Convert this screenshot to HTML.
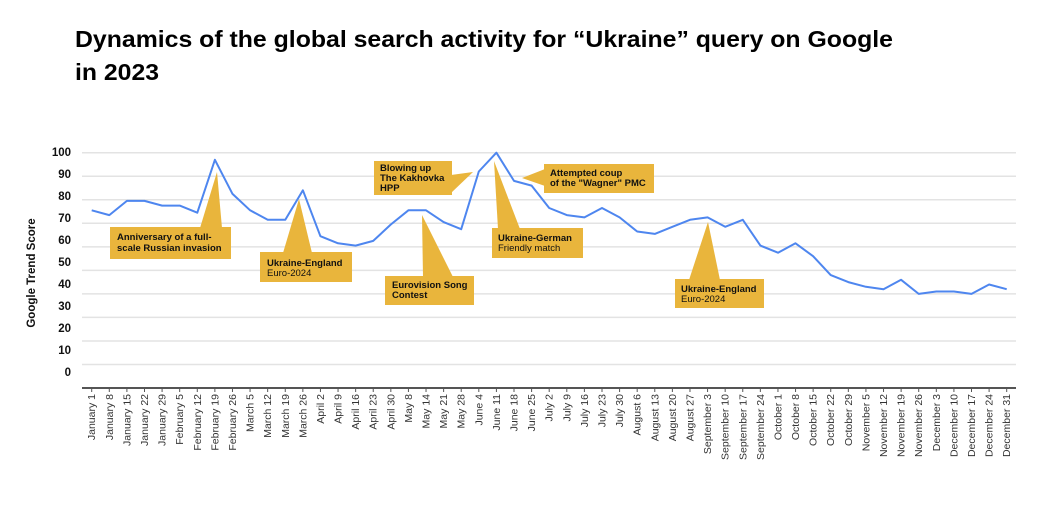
<!DOCTYPE html>
<html><head><meta charset="utf-8"><style>
html,body{margin:0;padding:0;background:#fff;}
svg{display:block;font-family:"Liberation Sans",sans-serif;}
.ann{font-size:9.5px;font-weight:bold;fill:#111;}
.annl{font-size:9.5px;fill:#111;}
</style></head><body>
<svg id="chart" width="1052" height="507" viewBox="0 0 1052 507">
<text x="75" y="47" font-size="23" font-weight="bold" fill="#000" textLength="818" lengthAdjust="spacingAndGlyphs">Dynamics of the global search activity for “Ukraine” query on Google</text>
<text x="75" y="80" font-size="23" font-weight="bold" fill="#000" textLength="84" lengthAdjust="spacingAndGlyphs">in 2023</text>
<g id="grid"></g>
<g id="yticks"></g>
<text transform="translate(35,273) rotate(-90)" text-anchor="middle" font-size="11.5" font-weight="bold" fill="#111">Google Trend Score</text>
<g id="xticks"></g>
<path id="line" fill="none" stroke="#4e86ef" stroke-width="2" stroke-linejoin="round"/>
<g id="anns">
<g>
<polygon points="200,228 217,172 222,228" fill="#e9b53c"/>
<rect x="110" y="227" width="121" height="32" fill="#e9b53c"/>
<text class="ann" x="117" y="240">Anniversary of a full-</text>
<text class="ann" x="117" y="251">scale Russian invasion</text></g>
<g>
<polygon points="283,253 299,199 312,253" fill="#e9b53c"/>
<rect x="260" y="252" width="92" height="30" fill="#e9b53c"/>
<text class="ann" x="267" y="266">Ukraine-England</text>
<text class="annl" x="267" y="276">Euro-2024</text></g>
<g>
<polygon points="423,277 422,215 453,277" fill="#e9b53c"/>
<rect x="385" y="276" width="89" height="29" fill="#e9b53c"/>
<text class="ann" x="392" y="288">Eurovision Song</text>
<text class="ann" x="392" y="298">Contest</text></g>
<g>
<polygon points="451,175 473,172 451,193" fill="#e9b53c"/>
<rect x="374" y="161" width="78" height="34" fill="#e9b53c"/>
<text class="ann" x="380" y="171">Blowing up</text>
<text class="ann" x="380" y="181">The Kakhovka</text>
<text class="ann" x="380" y="191">HPP</text></g>
<g>
<polygon points="498,229 494,161 520,229" fill="#e9b53c"/>
<rect x="492" y="228" width="91" height="30" fill="#e9b53c"/>
<text class="ann" x="498" y="241">Ukraine-German</text>
<text class="annl" x="498" y="251">Friendly match</text></g>
<g>
<polygon points="545,169 522,178 545,186" fill="#e9b53c"/>
<rect x="544" y="164" width="110" height="29" fill="#e9b53c"/>
<text class="ann" x="550" y="176">Attempted coup</text>
<text class="ann" x="550" y="186">of the "Wagner" PMC</text></g>
<g>
<polygon points="689,280 708,222 720,280" fill="#e9b53c"/>
<rect x="675" y="279" width="89" height="29" fill="#e9b53c"/>
<text class="ann" x="681" y="292">Ukraine-England</text>
<text class="annl" x="681" y="302">Euro-2024</text></g>
</g>
</svg>
<script>
const categories=["January 1","January 8","January 15","January 22","January 29","February 5","February 12","February 19","February 26","March 5","March 12","March 19","March 26","April 2","April 9","April 16","April 23","April 30","May 8","May 14","May 21","May 28","June 4","June 11","June 18","June 25","July 2","July 9","July 16","July 23","July 30","August 6","August 13","August 20","August 27","September 3","September 10","September 17","September 24","October 1","October 8","October 15","October 22","October 29","November 5","November 12","November 19","November 26","December 3","December 10","December 17","December 24","December 31"];
const values=[75.5,73.5,79.5,79.5,77.5,77.5,74.5,97,82.5,75.5,71.5,71.5,84,64.5,61.5,60.5,62.5,69.5,75.5,75.5,70.5,67.5,92,100,88,86,76.5,73.5,72.5,76.5,72.5,66.5,65.5,68.5,71.5,72.5,68.5,71.5,60.5,57.5,61.5,56,48,45,43,42,46,40,41,41,40,44,42];
const yTickLabels=[100,90,80,70,60,50,40,30,20,10,0];
const gridValues=[100,90,80,70,60,50,40,30,20,10];
const NS="http://www.w3.org/2000/svg";
const x0=91.7,x1=1006.7;
function xs(i){return x0+(x1-x0)*i/(categories.length-1);}
function ys(v){return 152.7+(100-v)*2.353;}
function mk(tag,attrs,parent){const e=document.createElementNS(NS,tag);for(const k in attrs)e.setAttribute(k,attrs[k]);parent.appendChild(e);return e;}
const grid=document.getElementById('grid');
gridValues.forEach(v=>{
 const l=mk('line',{x1:82,x2:1016,y1:ys(v),y2:ys(v),stroke:'#e3e3e3','stroke-width':1.5},grid);
 
 
});
const ax=mk('line',{x1:82,x2:1016,y1:388,y2:388,stroke:'#555','stroke-width':2},grid);


const yt=document.getElementById('yticks');
yTickLabels.forEach((v,i)=>{
 const t=mk('text',{x:71,y:156+i*22,'text-anchor':'end','font-size':11.5,'font-weight':'bold',fill:'#111'},yt);
 t.textContent=v;
 
 
});
const xt=document.getElementById('xticks');
categories.forEach((c,i)=>{
 const x=xs(i);
 const tk=mk('line',{x1:x,x2:x,y1:388,y2:392,stroke:'#555','stroke-width':1},xt);
 
 
 const t=mk('text',{transform:`translate(${x+3.5},394) rotate(-90)`,'text-anchor':'end','font-size':10.5,fill:'#333'},xt);
 t.textContent=c;
 
 
});
document.getElementById('line').setAttribute('d',values.map((v,i)=>(i?'L':'M')+xs(i).toFixed(1)+','+ys(v).toFixed(1)).join(''));
</script>
</body></html>
